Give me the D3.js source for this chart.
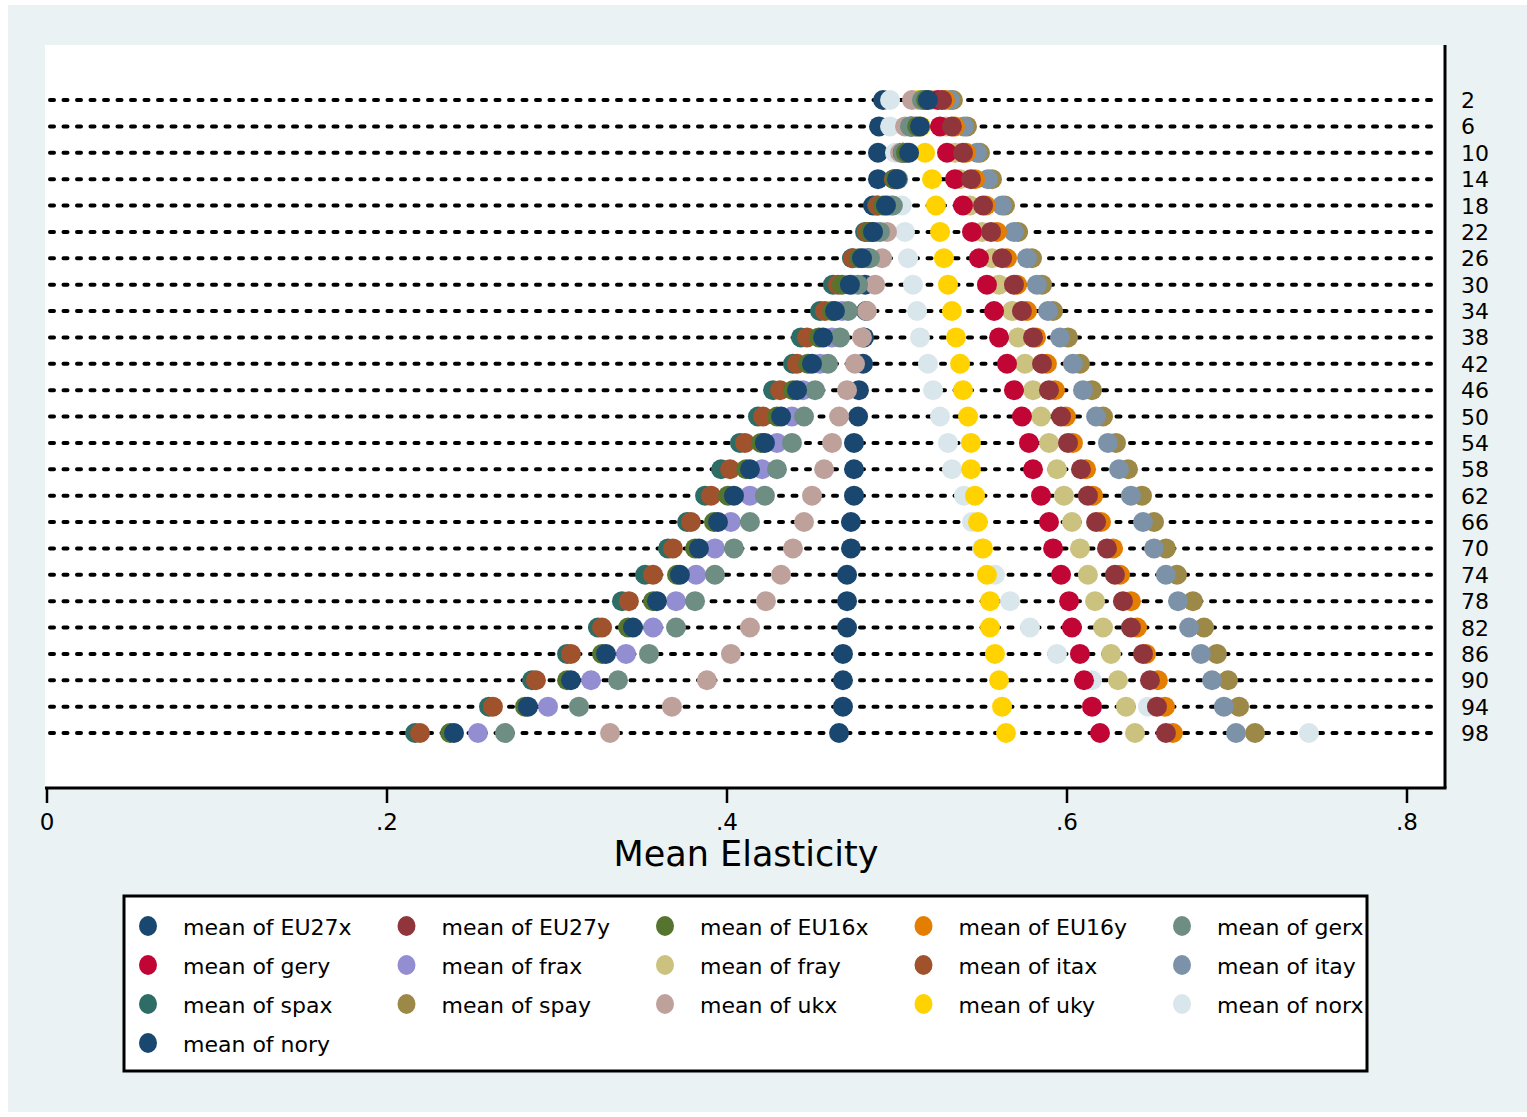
<!DOCTYPE html>
<html>
<head>
<meta charset="utf-8">
<script src="https://cdn.jsdelivr.net/npm/d3@7"></script>
<style>
  body { margin: 0; background: #ffffff; }
  text { font-family: "DejaVu Sans", sans-serif; }
</style>
</head>
<body>
<svg id="chart"></svg>
<script>
// percentile rows, top to bottom
const rows = [2, 6, 10, 14, 18, 22, 26, 30, 34, 38, 42, 46, 50, 54, 58, 62, 66, 70, 74, 78, 82, 86, 90, 94, 98];

// mean elasticity per row
const EU27x = [0.5185, 0.5138, 0.5074, 0.5003, 0.4938, 0.4862, 0.4797, 0.4726, 0.4638, 0.4568, 0.4503, 0.4415, 0.4321, 0.4226, 0.4138, 0.4044, 0.3950, 0.3838, 0.3726, 0.3591, 0.3450, 0.3291, 0.3085, 0.2832, 0.2397];
const EU27y = [0.5268, 0.5326, 0.5391, 0.5438, 0.5509, 0.5556, 0.5621, 0.5691, 0.5738, 0.5803, 0.5856, 0.5897, 0.5968, 0.6009, 0.6085, 0.6126, 0.6174, 0.6238, 0.6285, 0.6332, 0.6379, 0.6450, 0.6491, 0.6532, 0.6585];
const EU16x = [0.5174, 0.5121, 0.5056, 0.4991, 0.4921, 0.4844, 0.4779, 0.4679, 0.4621, 0.4544, 0.4479, 0.4391, 0.4297, 0.4203, 0.4115, 0.4009, 0.3926, 0.3815, 0.3709, 0.3568, 0.3421, 0.3268, 0.3062, 0.2815, 0.2374];
const EU16y = [0.5285, 0.5344, 0.5409, 0.5462, 0.5526, 0.5591, 0.5650, 0.5709, 0.5768, 0.5821, 0.5885, 0.5932, 0.5997, 0.6038, 0.6115, 0.6156, 0.6203, 0.6274, 0.6315, 0.6379, 0.6415, 0.6468, 0.6538, 0.6579, 0.6626];
const gerx  = [0.5150, 0.5079, 0.5038, 0.5009, 0.4979, 0.4903, 0.4844, 0.4774, 0.4715, 0.4668, 0.4597, 0.4521, 0.4456, 0.4385, 0.4297, 0.4226, 0.4138, 0.4044, 0.3932, 0.3815, 0.3703, 0.3544, 0.3362, 0.3132, 0.2697];
const gery  = [0.5244, 0.5256, 0.5297, 0.5344, 0.5391, 0.5444, 0.5485, 0.5532, 0.5574, 0.5603, 0.5650, 0.5691, 0.5738, 0.5779, 0.5803, 0.5850, 0.5897, 0.5921, 0.5968, 0.6015, 0.6032, 0.6079, 0.6103, 0.6150, 0.6197];
const frax  = [0.5162, 0.5109, 0.5062, 0.5003, 0.4950, 0.4879, 0.4815, 0.4738, 0.4679, 0.4621, 0.4550, 0.4450, 0.4385, 0.4297, 0.4209, 0.4138, 0.4026, 0.3932, 0.3821, 0.3703, 0.3568, 0.3409, 0.3203, 0.2950, 0.2538];
const fray  = [0.5209, 0.5291, 0.5344, 0.5374, 0.5432, 0.5503, 0.5562, 0.5603, 0.5679, 0.5715, 0.5756, 0.5803, 0.5850, 0.5897, 0.5944, 0.5985, 0.6032, 0.6079, 0.6126, 0.6168, 0.6215, 0.6262, 0.6303, 0.6350, 0.6403];
const itax  = [0.5168, 0.5091, 0.5038, 0.4985, 0.4891, 0.4826, 0.4744, 0.4656, 0.4579, 0.4474, 0.4415, 0.4315, 0.4215, 0.4109, 0.4021, 0.3909, 0.3791, 0.3685, 0.3568, 0.3426, 0.3268, 0.3085, 0.2879, 0.2626, 0.2197];
const itay  = [0.5315, 0.5397, 0.5474, 0.5538, 0.5621, 0.5691, 0.5768, 0.5826, 0.5891, 0.5962, 0.6038, 0.6097, 0.6174, 0.6244, 0.6309, 0.6379, 0.6450, 0.6515, 0.6585, 0.6656, 0.6721, 0.6791, 0.6856, 0.6926, 0.6997];
const spax  = [0.5162, 0.5085, 0.5038, 0.4985, 0.4885, 0.4815, 0.4738, 0.4626, 0.4550, 0.4438, 0.4391, 0.4274, 0.4185, 0.4079, 0.3968, 0.3874, 0.3768, 0.3656, 0.3521, 0.3385, 0.3244, 0.3062, 0.2856, 0.2603, 0.2168];
const spay  = [0.5332, 0.5415, 0.5491, 0.5562, 0.5638, 0.5715, 0.5797, 0.5856, 0.5921, 0.6009, 0.6079, 0.6150, 0.6215, 0.6291, 0.6362, 0.6444, 0.6515, 0.6585, 0.6650, 0.6744, 0.6809, 0.6885, 0.6950, 0.7015, 0.7109];
const ukx   = [0.5091, 0.5050, 0.5021, 0.4997, 0.4968, 0.4944, 0.4915, 0.4874, 0.4826, 0.4797, 0.4756, 0.4709, 0.4662, 0.4621, 0.4574, 0.4503, 0.4456, 0.4391, 0.4321, 0.4232, 0.4138, 0.4026, 0.3885, 0.3679, 0.3315];
const uky   = [0.5126, 0.5144, 0.5168, 0.5209, 0.5232, 0.5256, 0.5279, 0.5303, 0.5326, 0.5350, 0.5374, 0.5391, 0.5421, 0.5438, 0.5438, 0.5462, 0.5479, 0.5509, 0.5532, 0.5550, 0.5550, 0.5579, 0.5603, 0.5621, 0.5644];
const norx  = [0.4962, 0.4962, 0.4991, 0.5009, 0.5032, 0.5050, 0.5068, 0.5097, 0.5121, 0.5138, 0.5185, 0.5215, 0.5256, 0.5303, 0.5326, 0.5397, 0.5444, 0.5503, 0.5579, 0.5668, 0.5785, 0.5944, 0.6150, 0.6479, 0.7426];
const nory  = [0.4921, 0.4897, 0.4891, 0.4891, 0.4862, 0.4850, 0.4832, 0.4815, 0.4821, 0.4809, 0.4803, 0.4779, 0.4774, 0.4750, 0.4750, 0.4750, 0.4732, 0.4732, 0.4709, 0.4709, 0.4709, 0.4685, 0.4685, 0.4685, 0.4662];

const xTicks = [0, 0.2, 0.4, 0.6, 0.8];
const xTickLabels = ['0', '.2', '.4', '.6', '.8'];

const series = [
    { name: 'mean of EU27x', color: '#1a476f', values: EU27x },
    { name: 'mean of EU27y', color: '#90353b', values: EU27y },
    { name: 'mean of EU16x', color: '#55752f', values: EU16x },
    { name: 'mean of EU16y', color: '#e37e00', values: EU16y },
    { name: 'mean of gerx',  color: '#6e8e84', values: gerx },
    { name: 'mean of gery',  color: '#c10534', values: gery },
    { name: 'mean of frax',  color: '#938dd2', values: frax },
    { name: 'mean of fray',  color: '#cac27e', values: fray },
    { name: 'mean of itax',  color: '#a0522d', values: itax },
    { name: 'mean of itay',  color: '#7b92a8', values: itay },
    { name: 'mean of spax',  color: '#2d6d66', values: spax },
    { name: 'mean of spay',  color: '#9c8847', values: spay },
    { name: 'mean of ukx',   color: '#bfa19c', values: ukx },
    { name: 'mean of uky',   color: '#ffd200', values: uky },
    { name: 'mean of norx',  color: '#d9e6eb', values: norx },
    { name: 'mean of nory',  color: '#1a476f', values: nory }
];

/**
 * Set stuff up.
 */
const width = 1527;
const height = 1117;
const svg = d3.select('#chart')
    .attr('width', width)
    .attr('height', height);

// graph region
svg.append('rect')
    .attr('x', 8).attr('y', 5)
    .attr('width', width - 8).attr('height', height - 10)
    .attr('fill', '#eaf2f3');

const plot = { left: 45, right: 1445, top: 45, bottom: 788 };

svg.append('rect')
    .attr('x', plot.left).attr('y', plot.top)
    .attr('width', plot.right - plot.left).attr('height', plot.bottom - plot.top)
    .attr('fill', '#ffffff');

const x = d3.scaleLinear().domain([0, 0.8]).range([46.5, 1406.5]);
const y = d3.scalePoint().domain(rows).range([100, 733]);

/**
 * Dotted row lines.
 */
svg.append('g')
    .selectAll('line')
    .data(rows)
    .enter()
    .append('line')
    .attr('x1', 50)
    .attr('x2', 1440)
    .attr('y1', d => y(d))
    .attr('y2', d => y(d))
    .attr('stroke', '#000')
    .attr('stroke-width', 4)
    .attr('stroke-linecap', 'round')
    .attr('stroke-dasharray', '4,9.5');

/**
 * Dots. Stata puts the first variable on top, so draw in reverse.
 */
const dots = svg.append('g');
series.slice().reverse().forEach(function (s) {
    dots.append('g')
        .selectAll('circle')
        .data(s.values)
        .enter()
        .append('circle')
        .attr('cx', d => x(d))
        .attr('cy', (d, i) => y(rows[i]))
        .attr('r', 10)
        .attr('fill', s.color);
});

/**
 * Axes.
 */
svg.append('line')
    .attr('x1', plot.left).attr('x2', plot.right + 1.5)
    .attr('y1', plot.bottom).attr('y2', plot.bottom)
    .attr('stroke', '#000').attr('stroke-width', 3);

svg.append('line')
    .attr('x1', plot.right).attr('x2', plot.right)
    .attr('y1', plot.top).attr('y2', plot.bottom)
    .attr('stroke', '#000').attr('stroke-width', 3);

const xAxis = svg.append('g')
    .attr('transform', `translate(0,${plot.bottom})`)
    .call(d3.axisBottom(x)
        .tickValues(xTicks)
        .tickFormat((d, i) => xTickLabels[i])
        .tickSize(15)
        .tickPadding(11));
xAxis.select('.domain').remove();
xAxis.selectAll('.tick line').attr('stroke', '#000').attr('stroke-width', 2.5);
xAxis.selectAll('.tick text')
    .attr('fill', '#000')
    .style('font-size', '23px')
    .style('font-family', '"DejaVu Sans", sans-serif');

svg.append('text')
    .attr('x', 746)
    .attr('y', 866)
    .attr('text-anchor', 'middle')
    .style('font-size', '35px')
    .text('Mean Elasticity');

// row labels on the right
svg.append('g')
    .selectAll('text')
    .data(rows)
    .enter()
    .append('text')
    .attr('x', 1461)
    .attr('y', d => y(d) + 8)
    .style('font-size', '22px')
    .text(d => d);

/**
 * Legend.
 */
const legend = svg.append('g');
legend.append('rect')
    .attr('x', 124).attr('y', 896)
    .attr('width', 1243).attr('height', 175)
    .attr('fill', '#fff')
    .attr('stroke', '#000')
    .attr('stroke-width', 3);

const item = legend.selectAll('g.item')
    .data(series)
    .enter()
    .append('g')
    .attr('class', 'item')
    .attr('transform', (d, i) => `translate(${148 + (i % 5) * 258.5},${926 + Math.floor(i / 5) * 39})`);

item.append('ellipse')
    .attr('rx', 9)
    .attr('ry', 10)
    .attr('fill', d => d.color);

item.append('text')
    .attr('x', 35)
    .attr('y', 9)
    .style('font-size', '22px')
    .text(d => d.name);
</script>
</body>
</html>
